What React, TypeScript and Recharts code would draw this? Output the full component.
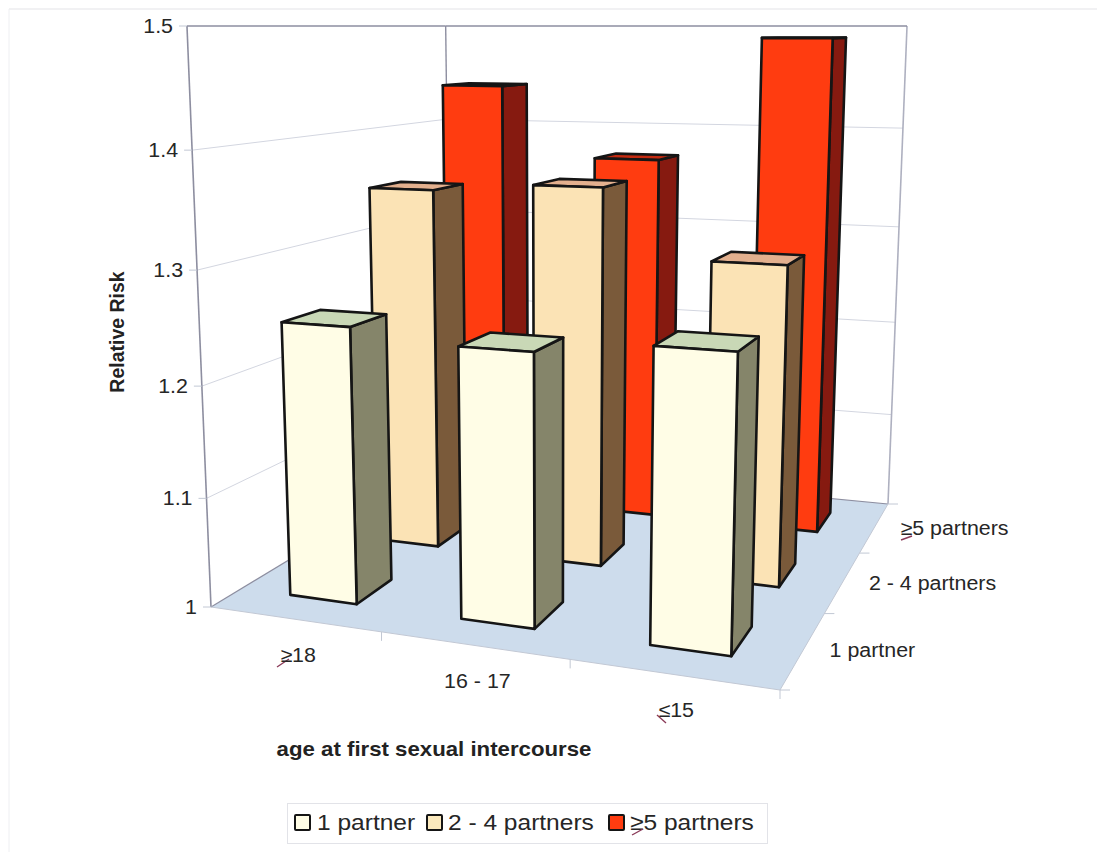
import { Scatter, ScatterChart, XAxis, YAxis } from "recharts";

const ageGroups = ["≥18", "16 - 17", "≤15"];
const partnerGroups = ["1 partner", "2 - 4 partners", "≥5 partners"];
const valueTicks = [1, 1.1, 1.2, 1.3, 1.4, 1.5];

// relative risk per age group
const onePartnerRisk = [1.25, 1.24, 1.252];
const twoToFourRisk = [1.351, 1.359, 1.297];
const fivePlusRisk = [1.441, 1.371, 1.489];

const WIDTH = 1097;
const HEIGHT = 852;
const FONT = "'Liberation Sans', Arial, sans-serif";
const BAR_SIZE = 0.4; // share of a floor cell
const AXIS_THICKNESS = 1; // recharts skips axes with no size, so they get one pixel

const PLOT_W = WIDTH - AXIS_THICKNESS;
const PLOT_H = HEIGHT - 2 * AXIS_THICKNESS;

const rows = (risk: number[], depth: number) =>
  risk.map((value, i) => ({ age: i + 0.5, depth: depth + 0.5, value }));

// ---------- 3D projection ----------

type Pt = [number, number];

const floorFL: Pt = [211, 607];
const floorFR: Pt = [780, 690];
const floorBR: Pt = [888, 504];
const floorBL: Pt = [451, 462];
const CEILING_Y = 26;
const UPRIGHT_VP: Pt = [554, 8900];
const HEIGHT_BEND = -0.08;

function floorMatrix() {
  const [x0, y0] = floorFL;
  const [x1, y1] = floorFR;
  const [x2, y2] = floorBR;
  const [x3, y3] = floorBL;
  const dx1 = x1 - x2;
  const dx2 = x3 - x2;
  const sx = x0 - x1 + x2 - x3;
  const dy1 = y1 - y2;
  const dy2 = y3 - y2;
  const sy = y0 - y1 + y2 - y3;
  const den = dx1 * dy2 - dx2 * dy1;
  const g = (sx * dy2 - dx2 * sy) / den;
  const h = (dx1 * sy - sx * dy1) / den;
  return {
    a: x1 - x0 + g * x1,
    b: x3 - x0 + h * x3,
    c: x0,
    d: y1 - y0 + g * y1,
    e: y3 - y0 + h * y3,
    f: y0,
    g,
    h
  };
}

const M = floorMatrix();

// u: along the age axis, d: into the chart, h: up the value axis (all 0..1)
function project(u: number, d: number, h = 0): Pt {
  const w = 1 + M.g * u + M.h * d;
  const bx = (M.a * u + M.b * d + M.c) / w;
  const by = (M.d * u + M.e * d + M.f) / w;
  const topX =
    bx + ((bx - UPRIGHT_VP[0]) * (by - CEILING_Y)) / (UPRIGHT_VP[1] - by);
  const t = (h * (1 + HEIGHT_BEND)) / (1 + HEIGHT_BEND * h);
  return [bx + (topX - bx) * t, by + (CEILING_Y - by) * t];
}

const toPath = (pts: Pt[]) =>
  "M" + pts.map((p) => `${p[0].toFixed(1)},${p[1].toFixed(1)}`).join("L") + "Z";

const seg = (a: Pt, b: Pt, color: string, width: number, key?: string | number) => (
  <line
    key={key}
    x1={a[0]}
    y1={a[1]}
    x2={b[0]}
    y2={b[1]}
    stroke={color}
    strokeWidth={width}
  />
);

// ---------- walls and floor ----------

function Walls() {
  const grid = "#d3d6e0";
  const wall = "#8d8ea0";
  const rim = "#c2c8d4";
  return (
    <g>
      <path
        d={toPath([project(0, 0), project(1, 0), project(1, 1), project(0, 1)])}
        fill="#cddcec"
      />
      {valueTicks.slice(1, -1).map((v) => {
        const h = (v - 1) / 0.5;
        return (
          <g key={v}>
            {seg(project(0, 0, h), project(0, 1, h), grid, 1)}
            {seg(project(0, 1, h), project(1, 1, h), grid, 1)}
          </g>
        );
      })}
      {seg(project(0, 0), project(0, 1), wall, 1.2)}
      {seg(project(0, 1), project(1, 1), wall, 1.2)}
      {seg(project(0, 0), project(0, 0, 1), wall, 1.6)}
      {seg(project(0, 1), project(0, 1, 1), wall, 1.4)}
      {seg(project(1, 1), project(1, 1, 1), "#aeb0c0", 1.6)}
      {seg(project(0, 0, 1), project(0, 1, 1), wall, 1.6)}
      {seg(project(0, 1, 1), project(1, 1, 1), wall, 1.6)}
      {seg(project(0, 0), project(1, 0), rim, 1)}
      {seg(project(1, 0), project(1, 1), rim, 1)}
      {[1, 2, 3].map((i) => {
        const p = project(i / 3, 0);
        return seg(p, [p[0], p[1] + 9], rim, 1, i);
      })}
      {[0, 1, 2, 3].map((i) => {
        const p = project(1, i / 3);
        return seg(p, [p[0] + 10, p[1]], rim, 1, `d${i}`);
      })}
    </g>
  );
}

// ---------- bars ----------

function Bar3D(props: any) {
  const { cx, cy, payload, fill, sideFill, topFill } = props;
  const half = BAR_SIZE / 2;
  const ageAt = ((cx - AXIS_THICKNESS) / PLOT_W) * 3;
  const h = 1 - cy / PLOT_H;
  const u0 = (ageAt - half) / 3;
  const u1 = (ageAt + half) / 3;
  const d0 = (payload.depth - half) / 3;
  const d1 = (payload.depth + half) / 3;
  const line = {
    stroke: "#151515",
    strokeWidth: 2.6,
    strokeLinejoin: "round" as const
  };
  return (
    <g>
      <path
        d={toPath([project(u1, d0), project(u1, d1), project(u1, d1, h), project(u1, d0, h)])}
        fill={sideFill}
        {...line}
      />
      <path
        d={toPath([project(u0, d0, h), project(u1, d0, h), project(u1, d1, h), project(u0, d1, h)])}
        fill={topFill}
        {...line}
      />
      <path
        d={toPath([project(u0, d0), project(u1, d0), project(u1, d0, h), project(u0, d0, h)])}
        fill={fill}
        {...line}
      />
    </g>
  );
}

// ---------- axis ticks ----------

// tick text runs a little wide, hence the horizontal scale
function Label({ x, y, anchor, children }: any) {
  return (
    <text
      transform={`translate(${x} ${y}) scale(1.07 1)`}
      textAnchor={anchor}
      fontFamily={FONT}
      fontSize={20}
      fill="#262626"
    >
      {children}
    </text>
  );
}

function ValueTick({ y, payload }: any) {
  const p = project(0, 0, 1 - y / PLOT_H);
  return (
    <g>
      {seg([p[0] - 8, p[1]], p, "#c2c8d4", 1)}
      <Label x={p[0] - 14} y={p[1] + 7} anchor="end">
        {String(payload.value)}
      </Label>
    </g>
  );
}

function AgeTick({ x, payload }: any) {
  const p = project((x - AXIS_THICKNESS) / PLOT_W, 0);
  return (
    <Label x={p[0] + 4} y={p[1] + 43} anchor="middle">
      {ageGroups[Math.floor(payload.value)]}
    </Label>
  );
}

function DepthTick({ x, payload }: any) {
  const p = project(1, (x - AXIS_THICKNESS) / PLOT_W);
  return (
    <Label x={p[0] + 26} y={p[1] + 8} anchor="start">
      {partnerGroups[Math.floor(payload.value)]}
    </Label>
  );
}

// ---------- legend ----------

const legendItems = [
  { swatch: 295, text: 317, fill: "#fffde6" },
  { swatch: 427, text: 448, fill: "#fbe9bd" },
  { swatch: 609, text: 630, fill: "#ff3c10" }
];

function LegendBox() {
  return (
    <g>
      <rect x={287.5} y={803.5} width={480} height={40} fill="#fff" stroke="#e2e3e8" strokeWidth={1} />
      {legendItems.map((item, i) => (
        <g key={i}>
          <rect
            x={item.swatch}
            y={815}
            width={15}
            height={15}
            rx={1}
            fill={item.fill}
            stroke="#151515"
            strokeWidth={2}
          />
          <text
            transform={`translate(${item.text} 830) scale(1.085 1)`}
            fontFamily={FONT}
            fontSize={22.6}
            fill="#262626"
          >
            {partnerGroups[i]}
          </text>
        </g>
      ))}
    </g>
  );
}

// pen strokes over the inequality signs
const penStrokes: [Pt, Pt][] = [
  [[277, 667], [289, 659]],
  [[901, 540], [912, 536]],
  [[657, 715], [666, 723]],
  [[632, 835], [643, 829]]
];

export default function App() {
  return (
    <div style={{ position: "absolute", left: 0, top: 0, width: WIDTH, height: HEIGHT, background: "#fff" }}>
      <ScatterChart
        width={WIDTH}
        height={HEIGHT}
        margin={{ top: 0, right: 0, bottom: 0, left: 0 }}
      >
        <XAxis
          xAxisId="age"
          type="number"
          dataKey="age"
          domain={[0, 3]}
          ticks={[0.5, 1.5, 2.5]}
          height={AXIS_THICKNESS}
          axisLine={false}
          tickLine={false}
          tick={AgeTick}
          interval={0}
        />
        <XAxis
          xAxisId="depth"
          type="number"
          dataKey="depth"
          domain={[0, 3]}
          ticks={[0.5, 1.5, 2.5]}
          height={AXIS_THICKNESS}
          axisLine={false}
          tickLine={false}
          tick={DepthTick}
          interval={0}
        />
        <YAxis
          type="number"
          dataKey="value"
          domain={[1, 1.5]}
          ticks={valueTicks}
          width={AXIS_THICKNESS}
          axisLine={false}
          tickLine={false}
          tick={ValueTick}
          interval={0}
        />
        <Walls />
        {/* draws nothing; the depth axis only renders with a series attached */}
        <Scatter
          xAxisId="depth"
          data={rows(onePartnerRisk, 0)}
          isAnimationActive={false}
          shape={() => <g />}
        />
        <Scatter
          xAxisId="age"
          name={partnerGroups[2]}
          data={rows(fivePlusRisk, 2)}
          isAnimationActive={false}
          shape={(p: any) => <Bar3D {...p} fill="#ff3c10" sideFill="#861a10" topFill="#c42a10" />}
        />
        <Scatter
          xAxisId="age"
          name={partnerGroups[1]}
          data={rows(twoToFourRisk, 1)}
          isAnimationActive={false}
          shape={(p: any) => <Bar3D {...p} fill="#fbe3b5" sideFill="#7a5a3a" topFill="#e3b08e" />}
        />
        <Scatter
          xAxisId="age"
          name={partnerGroups[0]}
          data={rows(onePartnerRisk, 0)}
          isAnimationActive={false}
          shape={(p: any) => <Bar3D {...p} fill="#fffde6" sideFill="#85856a" topFill="#c9d8b6" />}
        />
        {seg([9, 9], [WIDTH, 9], "#e3e4e8", 1.2)}
        {seg([9, 9], [9, HEIGHT], "#eeeff2", 1)}
        <text
          transform="translate(434 756) scale(1.14 1)"
          textAnchor="middle"
          fontFamily={FONT}
          fontSize={19.5}
          fontWeight="bold"
          fill="#222"
        >
          age at first sexual intercourse
        </text>
        <text
          x={124}
          y={332}
          textAnchor="middle"
          transform="rotate(-90 124 332)"
          fontFamily={FONT}
          fontSize={19.5}
          fontWeight="bold"
          fill="#222"
        >
          Relative Risk
        </text>
        <LegendBox />
        {penStrokes.map(([a, b], i) => seg(a, b, "#8a3a58", 1.4, `pen${i}`))}
      </ScatterChart>
    </div>
  );
}
